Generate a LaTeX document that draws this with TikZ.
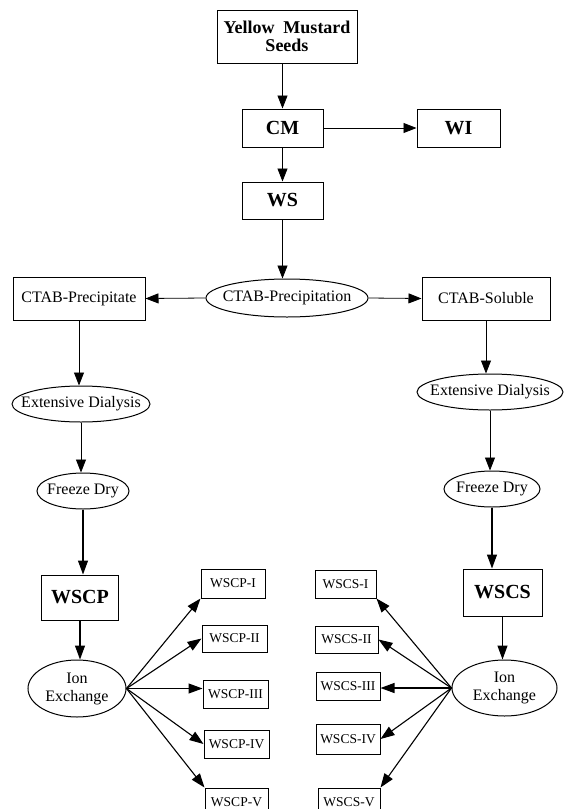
\documentclass[tikz,border=0pt]{standalone}
\usepackage{fontspec}
\setmainfont{Liberation Serif}
\usetikzlibrary{shapes.geometric,arrows.meta}
\begin{document}
\begin{tikzpicture}[x=1pt,y=-1pt,font=\fontsize{16}{18}\selectfont,
  box/.style={draw,line width=1pt,inner sep=0pt,align=center},
  oval/.style={draw,ellipse,line width=1pt,inner sep=0pt},
  arr/.style={-{Triangle[length=13pt,width=10pt]},line width=0.8pt},
  harr/.style={-{Triangle[length=14pt,width=10pt]},line width=1.1pt},
  big/.style={font=\fontsize{20}{22}\selectfont\bfseries},
  small/.style={font=\fontsize{13.5}{15}\selectfont}]
\useasboundingbox[fill=white] (0,0) rectangle (563,809);
% top
\node[box,minimum width=140pt,minimum height=53pt,font=\fontsize{18}{18}\selectfont\bfseries] (yms) at (287,36.5) {Yellow\ \ Mustard\\Seeds};
\node[box,big,minimum width=81pt,minimum height=38pt] (cm) at (282.5,128) {CM};
\node[box,big,minimum width=83pt,minimum height=38pt] (wi) at (458.5,128) {WI};
\node[box,big,minimum width=81pt,minimum height=37pt] (ws) at (282.5,200.5) {WS};
% CTAB row
\node[oval,minimum width=162pt,minimum height=38pt,label={center:CTAB-Precipitation}] (ctab) at (287,298) {};
\node[box,minimum width=132pt,minimum height=43pt] (cpre) at (79,298.5) {CTAB-Precipitate};
\node[box,minimum width=128pt,minimum height=43pt] (csol) at (486,298.5) {CTAB-Soluble};
% columns
\node[oval,minimum width=138pt,minimum height=36pt,label={center:Extensive Dialysis}] (led) at (81,404) {};
\node[oval,minimum width=146pt,minimum height=36pt,label={center:Extensive Dialysis}] (red) at (490,392) {};
\node[oval,minimum width=92pt,minimum height=36pt,label={center:Freeze Dry}] (lfd) at (83,491) {};
\node[oval,minimum width=96pt,minimum height=36pt,label={center:Freeze Dry}] (rfd) at (492,489) {};
\node[box,big,minimum width=77pt,minimum height=45pt] (wscp) at (80,597.5) {WSCP};
\node[box,big,minimum width=79pt,minimum height=47pt] (wscs) at (502.5,592.5) {WSCS};
\node[oval,minimum width=98pt,minimum height=57pt,label={[align=center]center:{Ion\\Exchange}}] (ionl) at (77,688.5) {};
\node[oval,minimum width=105pt,minimum height=56pt,label={[align=center]center:{Ion\\Exchange}}] (ionr) at (504.5,688) {};
% fractions
\node[box,small,minimum width=64pt,minimum height=29pt] (p1) at (233,583.5) {WSCP-I};
\node[box,small,minimum width=65pt,minimum height=27pt] (p2) at (234.5,638.5) {WSCP-II};
\node[box,small,minimum width=65pt,minimum height=28pt] (p3) at (235.5,694) {WSCP-III};
\node[box,small,minimum width=65pt,minimum height=28pt] (p4) at (236.5,744) {WSCP-IV};
\node[box,small,minimum width=63pt,minimum height=28pt] (p5) at (236.5,802) {WSCP-V};
\node[box,small,minimum width=61pt,minimum height=28pt] (s1) at (345.5,584) {WSCS-I};
\node[box,small,minimum width=63pt,minimum height=27pt] (s2) at (346.5,639.5) {WSCS-II};
\node[box,small,minimum width=64pt,minimum height=28pt] (s3) at (348,686) {WSCS-III};
\node[box,small,minimum width=64pt,minimum height=30pt] (s4) at (348,739) {WSCS-IV};
\node[box,small,minimum width=62pt,minimum height=28pt] (s5) at (349,802) {WSCS-V};
% connectors
\draw[arr] (yms.south -| cm.north) -- (cm.north);
\draw[arr] (cm.east) -- (wi.west);
\draw[arr] (cm.south) -- (ws.north);
\draw[arr] (ws.south) -- (ws.south |- ctab.north);
\draw[arr] (ctab.west) -- (cpre.east);
\draw[arr] (ctab.east) -- (csol.west);
\draw[arr] (cpre.south) -- (cpre.south |- led.north);
\draw[arr] (led.south) -- (led.south |- lfd.north);
\draw[harr] (lfd.south) -- (lfd.south |- wscp.north);
\draw[harr] (wscp.south) -- (wscp.south |- ionl.north);
\draw[arr] (csol.south) -- (csol.south |- red.north);
\draw[arr] (red.south) -- (red.south |- rfd.north);
\draw[harr] (rfd.south) -- (rfd.south |- wscs.north);
\draw[harr] (wscs.south) -- (wscs.south |- ionr.north);
\draw[harr] (ionl.east) -- (p1.south west);
\draw[harr] (ionl.east) -- (p2.west);
\draw[harr] (ionl.east) -- (ionl.east -| p3.west);
\draw[harr] (ionl.east) -- (p4.west);
\draw[harr] (ionl.east) -- (p5.north west);
\draw[harr] (ionr.west) -- (s1.south east);
\draw[harr] (ionr.west) -- (s2.east);
\draw[harr] (ionr.west) -- (ionr.west -| s3.east);
\draw[harr] (ionr.west) -- (s4.east);
\draw[harr] (ionr.west) -- (s5.north east);
\end{tikzpicture}
\end{document}
